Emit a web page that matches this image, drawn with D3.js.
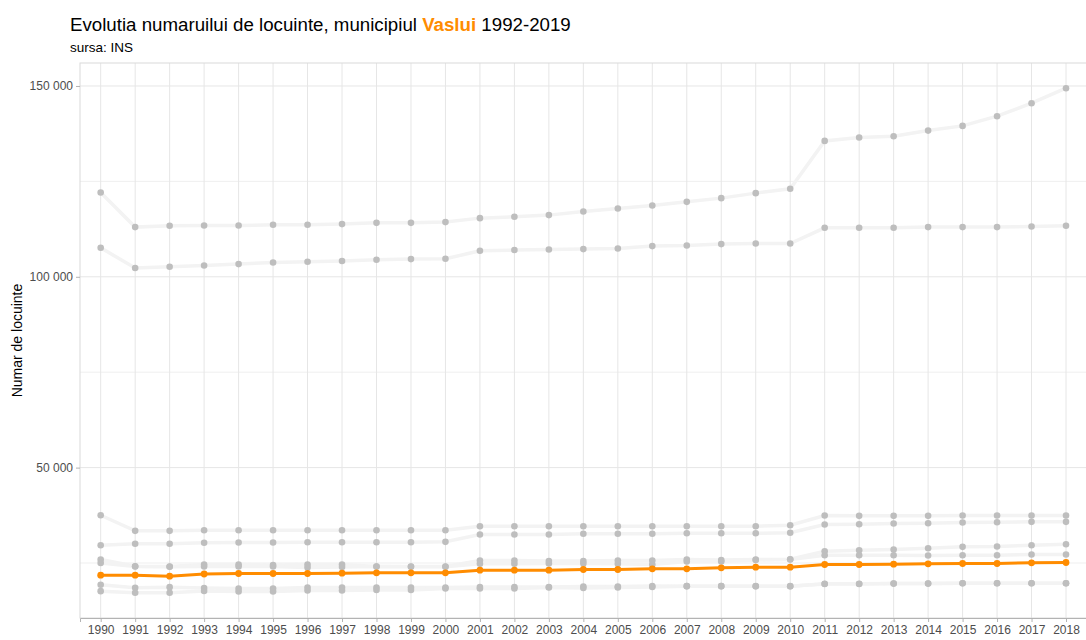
<!DOCTYPE html>
<html>
<head>
<meta charset="utf-8">
<script src="https://cdn.jsdelivr.net/npm/d3@7"></script>
<style>
body { margin:0; background:#fff; font-family:"Liberation Sans", Arial, sans-serif; }
.title { font-size:18.7px; fill:#000; }
.subtitle { font-size:13.5px; fill:#000; }
.axisLabel { font-size:14px; fill:#000; }
.tick text { font-size:12px; fill:#4d4d4d; font-family:"Liberation Sans", Arial, sans-serif; }
</style>
</head>
<body>
<svg id="graph"></svg>
<script>
var years = [1990,1991,1992,1993,1994,1995,1996,1997,1998,1999,2000,2001,2002,2003,2004,2005,2006,2007,2008,2009,2010,2011,2012,2013,2014,2015,2016,2017,2018]

// gray series (other municipalities)
var serieA = [122080,113020,113360,113440,113440,113620,113620,113800,114140,114140,114330,115370,115720,116160,117100,117890,118670,119640,120610,121920,123050,135610,136480,136840,138310,139540,142080,145480,149410]
var serieB = [107600,102290,102630,102970,103330,103750,103930,104120,104460,104640,104720,106810,107000,107160,107260,107420,108040,108200,108570,108730,108730,112840,112840,112840,113020,113020,113020,113180,113360]
var serieC = [37520,33430,33430,33590,33590,33590,33590,33590,33590,33590,33590,34640,34640,34640,34640,34640,34640,34640,34640,34640,34900,37440,37360,37360,37360,37440,37440,37440,37440]
var serieD = [29660,30030,30030,30290,30370,30370,30450,30450,30450,30450,30550,32460,32460,32460,32650,32650,32650,32800,32800,32800,32910,35080,35160,35340,35420,35600,35680,35790,35790]
var serieE1 = [25920,24160,24090,24610,24610,24480,24610,24610,24090,24090,24090,25660,25660,25530,25530,25660,25660,25920,25790,25920,26000,28090,28350,28540,28880,29240,29320,29660,29920]
var serieE2 = [25000,24090,24010,24090,24090,24090,23820,23950,24090,24010,24010,24790,24790,24870,24870,24790,24610,25390,25390,25790,25920,27040,27040,27040,26970,27040,27040,27230,27230]
var serieF = [19290,18510,18670,18460,18330,18330,18590,18590,18590,18590,18590,18720,18720,18720,18850,18850,18980,18930,18930,18930,18930,19560,19560,19640,19640,19710,19710,19710,19710]
var serieG = [17620,17200,17200,17670,17540,17540,17800,17800,17930,17930,18330,18330,18330,18590,18460,18590,18720,18930,18930,18900,18900,19500,19500,19600,19600,19680,19680,19680,19680]

// Vaslui
var vaslui = [21810,21810,21550,22120,22250,22250,22250,22330,22440,22440,22440,23120,23120,23120,23300,23300,23480,23480,23750,23900,23900,24610,24610,24690,24790,24870,24870,25050,25130]

var yTicks = [50000,100000,150000]
var yMinor = [25000,75000,125000]

var others = [serieA,serieB,serieC,serieD,serieE1,serieE2,serieF,serieG]

var screen = {width:1086,height:640}
var margins = {left:80,right:-0.7,top:63,bottom:22}

var graph = {
    width:screen.width-margins.left-margins.right,
    height:screen.height-margins.top-margins.bottom
}

var svg = d3.select("#graph")
    .attr("width",screen.width)
    .attr("height",screen.height)

var xScale = d3.scalePoint()
    .domain(years)
    .range([0,graph.width])
    .padding(0.6)

var allVals = d3.merge(others.concat([vaslui]))
var lo = d3.min(allVals), hi = d3.max(allVals)
var pad = (hi-lo)*0.05
var yScale = d3.scaleLinear()
    .domain([lo-pad,hi+pad])
    .range([graph.height,0])

var target = svg.append("g")
    .attr("transform","translate("+margins.left+","+margins.top+")")

// grid
target.selectAll(".minor")
    .data(yMinor)
    .enter()
    .append("line")
    .attr("x1",0).attr("x2",graph.width)
    .attr("y1",function(d){return yScale(d)})
    .attr("y2",function(d){return yScale(d)})
    .attr("stroke","#efefef")
    .attr("stroke-width",1)

target.selectAll(".major")
    .data(yTicks)
    .enter()
    .append("line")
    .attr("x1",0).attr("x2",graph.width)
    .attr("y1",function(d){return yScale(d)})
    .attr("y2",function(d){return yScale(d)})
    .attr("stroke","#e6e6e6")
    .attr("stroke-width",1)

target.selectAll(".vgrid")
    .data(years)
    .enter()
    .append("line")
    .attr("x1",function(d){return xScale(d)})
    .attr("x2",function(d){return xScale(d)})
    .attr("y1",0).attr("y2",graph.height)
    .attr("stroke","#e6e6e6")
    .attr("stroke-width",1)

// panel border
target.append("rect")
    .attr("x",0).attr("y",0)
    .attr("width",graph.width).attr("height",graph.height)
    .attr("fill","none")
    .attr("stroke","#dadada")
    .attr("stroke-width",1)

var line = d3.line()
    .x(function(d,i){return xScale(years[i])})
    .y(function(d){return yScale(d)})

// gray lines
target.selectAll(".grayLine")
    .data(others)
    .enter()
    .append("path")
    .attr("d",line)
    .attr("fill","none")
    .attr("stroke","#f3f3f3")
    .attr("stroke-width",3.5)

others.forEach(function(serie)
{
    target.append("g").selectAll("circle")
        .data(serie)
        .enter()
        .append("circle")
        .attr("cx",function(d,i){return xScale(years[i])})
        .attr("cy",function(d){return yScale(d)})
        .attr("r",3.3)
        .attr("fill","#bebebe")
})

// Vaslui line
target.append("path")
    .attr("d",line(vaslui))
    .attr("fill","none")
    .attr("stroke","#ff8c00")
    .attr("stroke-width",3)

target.append("g").selectAll("circle")
    .data(vaslui)
    .enter()
    .append("circle")
    .attr("cx",function(d,i){return xScale(years[i])})
    .attr("cy",function(d){return yScale(d)})
    .attr("r",3.4)
    .attr("fill","#ff8c00")

// axes
var xAxis = d3.axisBottom(xScale).tickSize(4).tickPadding(3)
var yAxis = d3.axisLeft(yScale)
    .tickValues(yTicks)
    .tickSize(4)
    .tickPadding(3)
    .tickFormat(function(d){return d3.format(",")(d).replace(/,/g," ")})

var gx = svg.append("g")
    .attr("transform","translate("+margins.left+","+(margins.top+graph.height)+")")
    .call(xAxis)
gx.select(".domain").attr("stroke","#b3b3b3")
gx.selectAll(".tick line").attr("stroke","#b3b3b3")

var gy = svg.append("g")
    .attr("transform","translate("+margins.left+","+margins.top+")")
    .call(yAxis)
gy.select(".domain").remove()
gy.selectAll(".tick line").attr("stroke","#b3b3b3")

// labels
var labels = svg.append("g")

var title = labels.append("text")
    .classed("title",true)
    .attr("x",70)
    .attr("y",31)
title.append("tspan").text("Evolutia numaruilui de locuinte, municipiul ")
title.append("tspan").text("Vaslui").attr("fill","#ff8c00").attr("font-weight","bold")
title.append("tspan").text(" 1992-2019")

labels.append("text")
    .classed("subtitle",true)
    .text("sursa: INS")
    .attr("x",70)
    .attr("y",52)

labels.append("g")
    .attr("transform","translate(22,"+(margins.top+graph.height/2)+")")
    .append("text")
    .classed("axisLabel",true)
    .text("Numar de locuinte")
    .attr("text-anchor","middle")
    .attr("transform","rotate(270)")
</script>
</body>
</html>
